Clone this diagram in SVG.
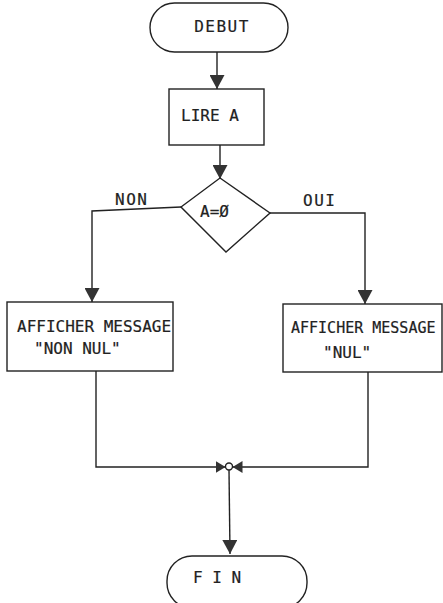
<svg xmlns="http://www.w3.org/2000/svg" width="443" height="603" viewBox="0 0 443 603">
  <style>
    .shape { fill: none; stroke: #222; stroke-width: 1.4; }
    .wire { fill: none; stroke: #222; stroke-width: 1.4; }
    .txt { font-family: "DejaVu Sans Mono", "Liberation Mono", monospace; font-size: 16px; fill: #222; stroke: #222; stroke-width: 0.2; }
    .txt-tight { font-size: 15px; }
  </style>
  <defs>
    <marker id="arrow" viewBox="0 0 14 15" refX="14" refY="7.5" markerWidth="14" markerHeight="15" markerUnits="userSpaceOnUse" orient="auto">
      <path d="M0,0 L14,7.5 L0,15 z" fill="#333"/>
    </marker>
    <marker id="arrow-small" viewBox="0 0 10 12" refX="10" refY="6" markerWidth="10" markerHeight="12" markerUnits="userSpaceOnUse" orient="auto">
      <path d="M0,0 L10,6 L0,12 z" fill="#333"/>
    </marker>
  </defs>
  <rect width="443" height="603" fill="#fff"/>

  <g id="connectors">
    <line class="wire" x1="217" y1="52" x2="217" y2="89" marker-end="url(#arrow)"/>
    <line class="wire" x1="220" y1="145" x2="220" y2="179" marker-end="url(#arrow)"/>
    <polyline class="wire" points="181,207 92,211 92,302" marker-end="url(#arrow)"/>
    <polyline class="wire" points="270,213 365,213 365,304" marker-end="url(#arrow)"/>
    <polyline class="wire" points="96,371 96,467 225.5,467" marker-end="url(#arrow-small)"/>
    <polyline class="wire" points="368,372 368,467 232.5,467" marker-end="url(#arrow-small)"/>
    <line class="wire" x1="229" y1="470" x2="230" y2="554" marker-end="url(#arrow)"/>
    <circle cx="229" cy="466.5" r="3.5" fill="#fff" stroke="#222" stroke-width="1.4"/>
  </g>

  <g id="debut">
    <rect class="shape" x="150" y="3" width="138" height="49" rx="24.5"/>
    <text class="txt" x="222" y="32" text-anchor="middle" letter-spacing="1.5">DEBUT</text>
  </g>

  <g id="lire-a">
    <rect class="shape" x="169" y="89" width="95" height="56"/>
    <text class="txt" x="181" y="121">LIRE A</text>
  </g>

  <g id="test-a">
    <polygon class="shape" points="220,178 270,213 226,252 181,207"/>
    <text class="txt" x="200" y="217">A=Ø</text>
    <text class="txt" x="115" y="205" letter-spacing="1.5">NON</text>
    <text class="txt" x="303" y="206" letter-spacing="1.5">OUI</text>
  </g>

  <g id="msg-non-nul">
    <rect class="shape" x="7" y="302" width="166" height="69"/>
    <text class="txt" x="17" y="332">AFFICHER MESSAGE</text>
    <text class="txt" x="34" y="354">"NON NUL"</text>
  </g>

  <g id="msg-nul">
    <rect class="shape" x="283" y="304" width="159" height="68"/>
    <text class="txt txt-tight" x="291" y="333">AFFICHER MESSAGE</text>
    <text class="txt" x="323" y="358">"NUL"</text>
  </g>

  <g id="fin">
    <rect class="shape" x="167" y="556" width="140" height="52" rx="25"/>
    <text class="txt" x="193" y="583">F I N</text>
  </g>
</svg>
